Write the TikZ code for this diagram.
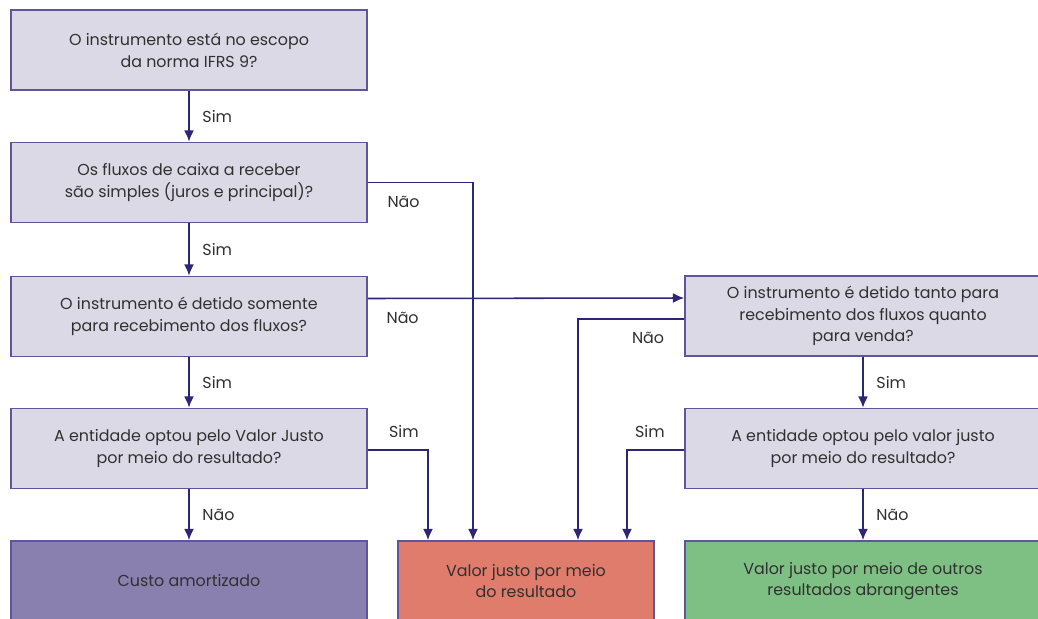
\documentclass[tikz,border=0pt]{standalone}
\usepackage{fontspec}
\setmainfont{Poppins}
\usetikzlibrary{arrows.meta}

\definecolor{qfill}{HTML}{DCD9E6}
\definecolor{qline}{HTML}{5E559C}
\definecolor{arrline}{HTML}{2C2674}
\definecolor{txtgray}{HTML}{303030}
\definecolor{amortfill}{HTML}{8A80B0}
\definecolor{vjrfill}{HTML}{E07C6B}
\definecolor{vjorafill}{HTML}{7EBF83}

\begin{document}
\begin{tikzpicture}[x=0.025cm,y=-0.025cm,
    every node/.style={text=txtgray, font=\fontsize{11.3}{15.5}\selectfont},
    qbox/.style={draw=qline, fill=qfill, line width=1.1pt, align=center,
        minimum width=8.9cm, minimum height=2cm, inner sep=0pt},
    rbox/.style={qbox, minimum width=8.9cm},
    endbox/.style={qbox, fill=#1},
    arr/.style={draw=arrline, line width=1.1pt, -{Latex[length=8pt,width=7pt]}},
    lbl/.style={inner sep=2pt}]
    \clip (0,0) rectangle (1038,618);

    % perguntas da coluna esquerda
    \node[qbox] (escopo) at (189,50) {O instrumento está no escopo\\da norma IFRS 9?};
    \node[qbox] (fluxos) at (189,182.5) {Os fluxos de caixa a receber\\são simples (juros e principal)?};
    \node[qbox] (receb) at (189,316.5) {O instrumento é detido somente\\para recebimento dos fluxos?};
    \node[qbox] (opcaoA) at (189,448.5) {A entidade optou pelo Valor Justo\\por meio do resultado?};

    % perguntas da coluna direita
    \node[rbox] (tanto) at (863,316) {O instrumento é detido tanto para\\recebimento dos fluxos quanto\\para venda?};
    \node[rbox] (opcaoB) at (863,448.5) {A entidade optou pelo valor justo\\por meio do resultado?};

    % classificacoes
    \node[endbox=amortfill] (amort) at (189,581) {Custo amortizado};
    \node[endbox=vjrfill, minimum width=6.4cm] (vjr) at (526,581) {Valor justo por meio\\do resultado};
    \node[endbox=vjorafill, minimum width=8.9cm] (vjora) at (863,581) {Valor justo por meio de outros\\resultados abrangentes};

    % setas verticais
    \draw[arr] (escopo) -- node[lbl, right=7pt]{Sim} (fluxos);
    \draw[arr] (fluxos) -- node[lbl, right=7pt]{Sim} (receb);
    \draw[arr] (receb) -- node[lbl, right=7pt]{Sim} (opcaoA);
    \draw[arr] (opcaoA) -- node[lbl, right=7pt]{Não} (amort);
    \draw[arr] (tanto) -- node[lbl, right=7pt]{Sim} (opcaoB);
    \draw[arr] (opcaoB) -- node[lbl, right=7pt]{Não} (vjora);

    % setas para o valor justo por meio do resultado
    \draw[arr] (fluxos.east) -| node[lbl, pos=0.17, below=7pt]{Não} ([shift={(-53,0)}]vjr.north);
    \draw[arr] ([shift={(0,-18)}]receb.east) -- node[lbl, pos=0.11, below=7pt]{Não} ([shift={(0,-18)}]tanto.west);
    \draw[arr] ([shift={(0,3)}]tanto.west) -| node[lbl, pos=0.17, below=7pt]{Não} ([shift={(52,0)}]vjr.north);
    \draw[arr] ([shift={(0,1.5)}]opcaoA.east) -| node[lbl, pos=0.3, above=6pt]{Sim} ([shift={(-98,0)}]vjr.north);
    \draw[arr] ([shift={(0,1.5)}]opcaoB.west) -| node[lbl, pos=0.3, above=6pt]{Sim} ([shift={(101,0)}]vjr.north);
\end{tikzpicture}
\end{document}
